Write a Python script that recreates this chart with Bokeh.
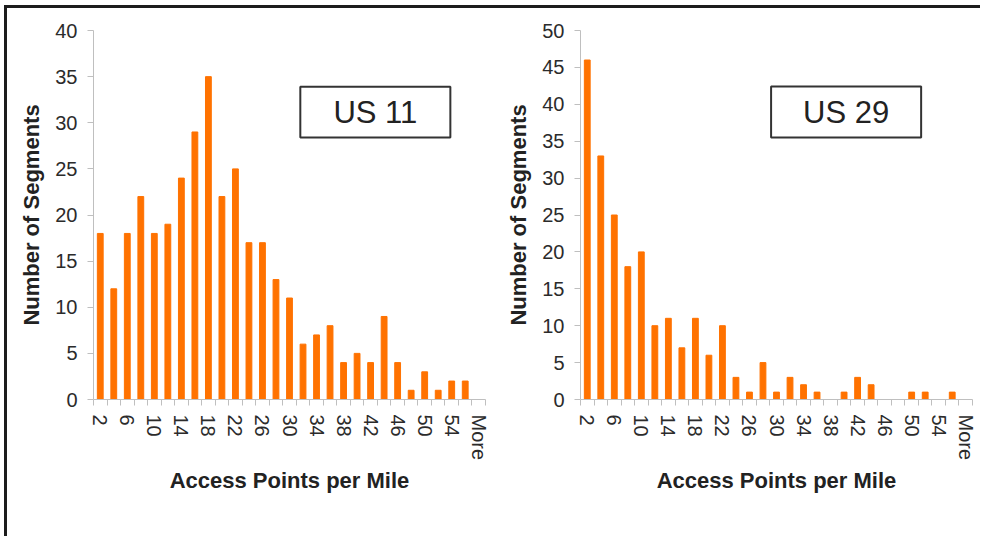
import math
from bokeh.plotting import figure
from bokeh.models import FixedTicker, Range1d, Label, BoxAnnotation
from bokeh.layouts import row
from bokeh.embed import file_html
from bokeh.resources import INLINE

# ---- data ----
categories = ["2", "4", "6", "8", "10", "12", "14", "16", "18", "20", "22", "24", "26", "28",
              "30", "32", "34", "36", "38", "40", "42", "44", "46", "48", "50", "52", "54", "56", "More"]
us11_counts = [18, 12, 18, 22, 18, 19, 24, 29, 35, 22, 25, 17, 17, 13, 11, 6, 7, 8, 4, 5,
               4, 9, 4, 1, 3, 1, 2, 2, 0]
us29_counts = [46, 33, 25, 18, 20, 10, 11, 7, 11, 6, 10, 3, 1, 5, 1, 3, 2, 1, 0, 1,
               3, 2, 0, 0, 1, 1, 0, 1, 0]
us11_y_ticks = [0, 5, 10, 15, 20, 25, 30, 35, 40]
us29_y_ticks = [0, 5, 10, 15, 20, 25, 30, 35, 40, 45, 50]
x_title = "Access Points per Mile"
y_title = "Number of Segments"

BAR = "#FF7200"
AX = "#BFBFBF"
FONT = "Liberation Sans"


def build(counts, yticks, name, width, left_border, right_border, box):
    n = len(categories)
    centers = [i + 0.5 for i in range(n)]
    p = figure(width=width, height=528, output_backend="svg", toolbar_location=None,
               x_range=Range1d(0, n), y_range=Range1d(yticks[0], yticks[-1]),
               min_border_left=left_border, min_border_right=right_border,
               min_border_top=22, min_border_bottom=137)
    p.outline_line_color = None
    p.xgrid.visible = False
    p.ygrid.visible = False
    p.vbar(x=centers, top=counts, width=0.43, color=BAR)

    # x axis: labels at every other category centre, tick marks at category boundaries
    lab_idx = list(range(0, n - 1, 2))
    if (n - 1) not in lab_idx:
        lab_idx.append(n - 1)
    p.xaxis.ticker = FixedTicker(ticks=[centers[i] for i in lab_idx],
                                 minor_ticks=list(range(n + 1)))
    p.xaxis.major_label_overrides = {centers[i]: categories[i] for i in lab_idx}
    p.xaxis.major_label_orientation = "vertical"
    p.xaxis.major_tick_line_color = None
    p.xaxis.minor_tick_line_color = AX
    p.xaxis.minor_tick_out = 6
    p.xaxis.minor_tick_in = 0
    p.xaxis.axis_line_color = AX
    p.xaxis.major_label_text_font = FONT
    p.xaxis.major_label_text_font_size = "20px"
    p.xaxis.major_label_text_color = "#2b2b2b"
    p.xaxis.major_label_standoff = 9
    p.xaxis.axis_label = x_title
    p.xaxis.axis_label_text_font = FONT
    p.xaxis.axis_label_text_font_size = "22px"
    p.xaxis.axis_label_text_font_style = "bold"
    p.xaxis.axis_label_text_color = "#222222"
    p.xaxis.axis_label_standoff = 5

    p.yaxis.ticker = FixedTicker(ticks=yticks, minor_ticks=[])
    p.yaxis.axis_line_color = AX
    p.yaxis.major_tick_line_color = AX
    p.yaxis.major_tick_out = 6
    p.yaxis.major_tick_in = 0
    p.yaxis.minor_tick_line_color = None
    p.yaxis.major_label_text_font = FONT
    p.yaxis.major_label_text_font_size = "20px"
    p.yaxis.major_label_text_color = "#2b2b2b"
    p.yaxis.major_label_standoff = 10
    p.yaxis.axis_label = y_title
    p.yaxis.axis_label_text_font = FONT
    p.yaxis.axis_label_text_font_size = "22px"
    p.yaxis.axis_label_text_font_style = "bold"
    p.yaxis.axis_label_text_color = "#222222"
    p.yaxis.axis_label_standoff = 8

    l, r, t, b = box
    p.add_layout(BoxAnnotation(left=l, right=r, top=t, bottom=b, fill_color="white",
                               fill_alpha=1.0, line_color="#333333", line_alpha=1.0,
                               line_width=2))
    p.add_layout(Label(x=(l + r) / 2, y=(t + b) / 2, text=name, text_align="center",
                       text_baseline="middle", text_font=FONT, text_font_size="31px",
                       text_color="#222222"))
    return p


p1 = build(us11_counts, us11_y_ticks, "US 11", 489, 86, 11, (15.3, 26.4, 33.9, 28.4))
p2 = build(us29_counts, us29_y_ticks, "US 29", 484, 84, 8, (14.1, 25.2, 42.4, 35.5))

layout = row(p1, p2, margin=(5, 0, 0, 4),
             styles={"border-top": "3px solid #1c1c1c",
                     "border-left": "3px solid #1c1c1c"})

open("out.html", "w").write(file_html(layout, INLINE))
